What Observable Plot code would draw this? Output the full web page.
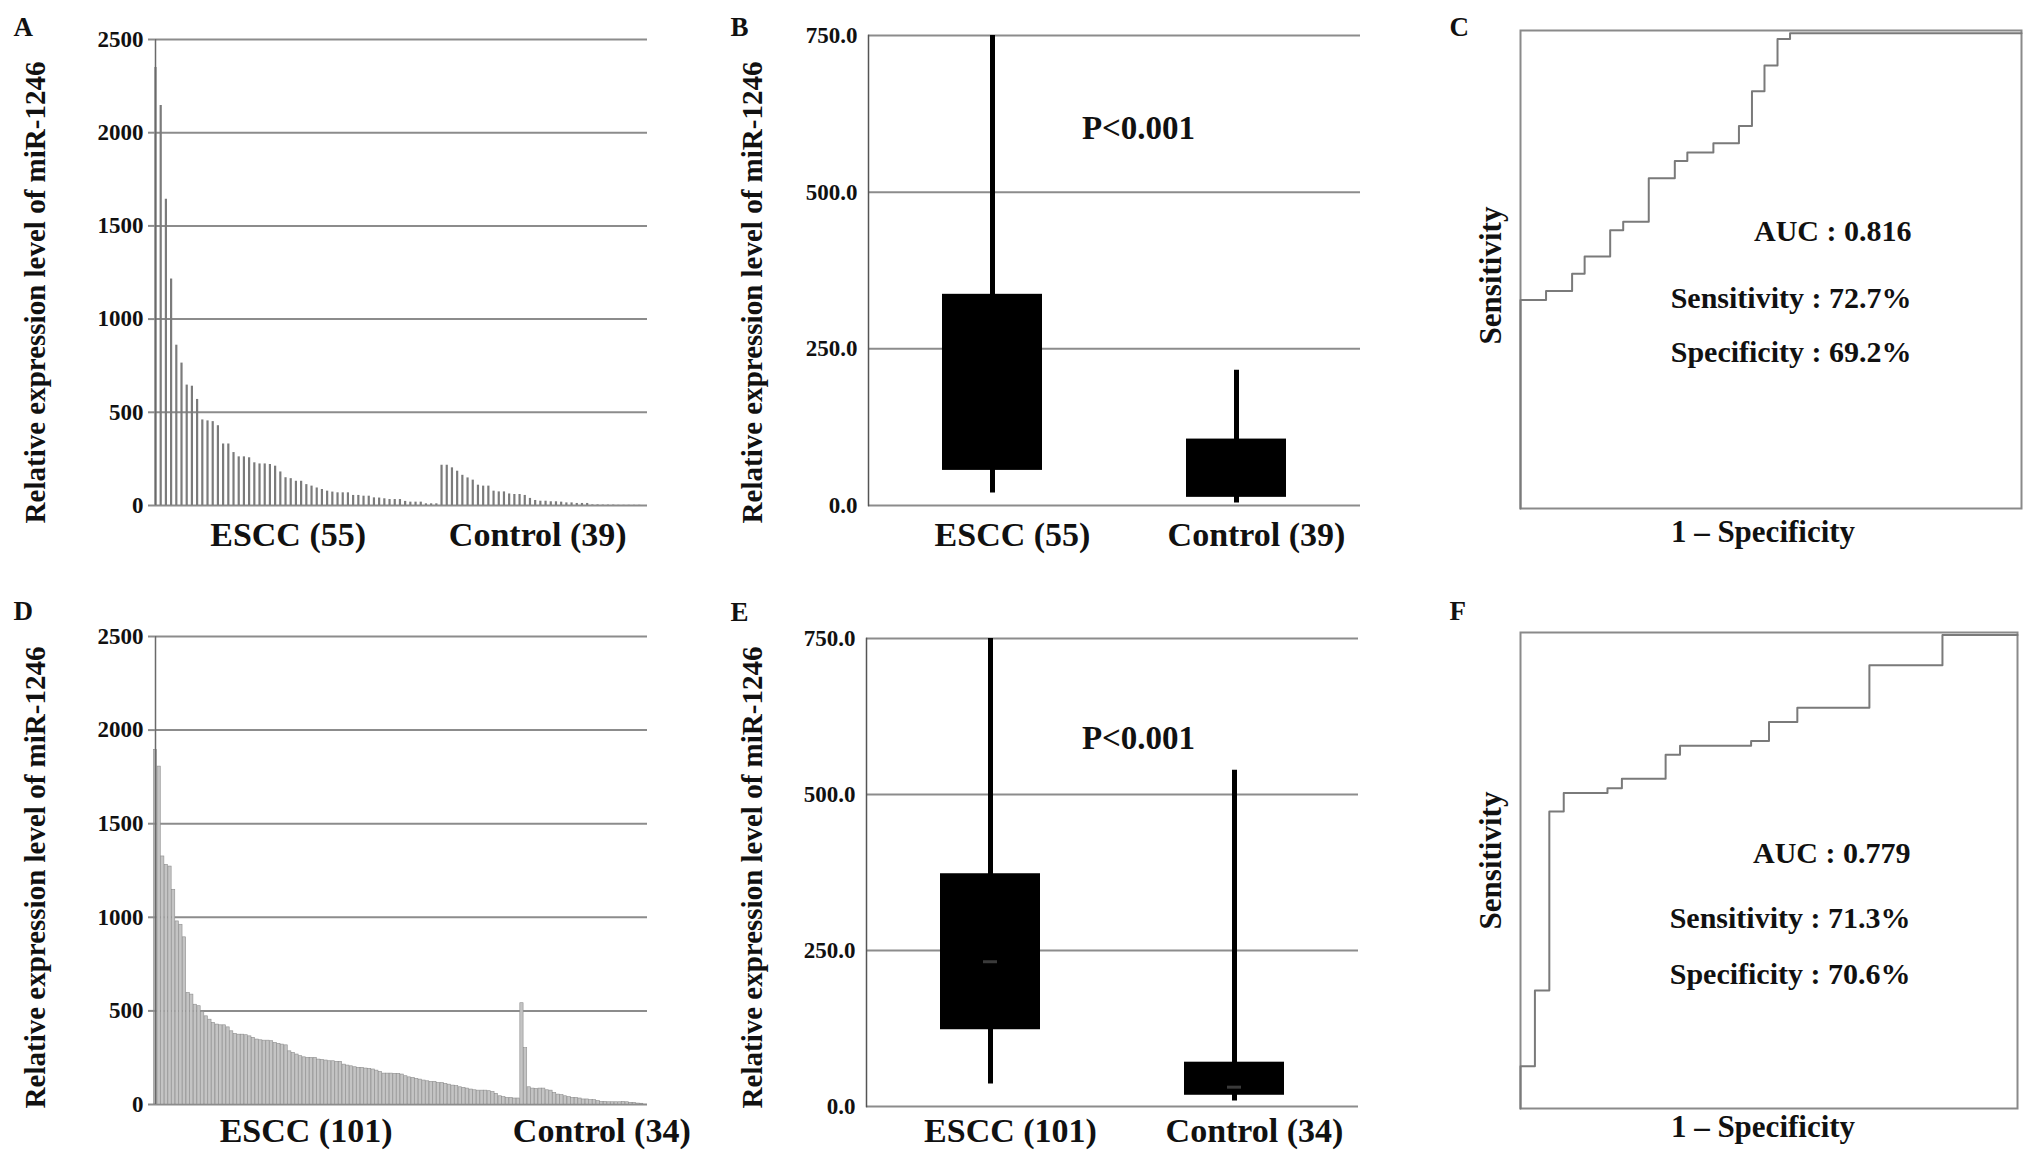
<!DOCTYPE html>
<html><head><meta charset="utf-8">
<script src="https://cdn.jsdelivr.net/npm/d3@7"></script>
<script src="https://cdn.jsdelivr.net/npm/@observablehq/plot@0.6"></script>
<style>
html,body{margin:0;padding:0;background:#fff;}
#fig{position:relative;width:2031px;height:1160px;overflow:hidden;background:#fff;}
#fig > svg{position:absolute;}
</style></head><body><div id="fig"></div>
<script>
// ---------- data ----------
const esccA = [2350,2146,1643,1215,860,764,646,640,569,459,454,450,428,330,330,284,261,261,256,229,223,223,220,211,180,149,144,130,130,112,104,94,86,77,72,68,68,68,54,54,50,50,41,40,36,32,32,32,22,18,18,18,9,9,9];
const ctrlA = [216,216,202,184,162,148,136,109,104,104,77,73,73,62,59,59,54,38,27,23,23,20,20,18,14,14,11,11,11,3,3,2,2,2,1,1,1,1,1];
const esccD = [1894,1805,1325,1280,1271,1147,978,960,893,596,587,533,525,494,471,453,436,427,423,423,412,391,377,373,373,370,364,356,347,343,341,341,338,329,324,320,316,284,276,267,258,252,249,249,249,240,238,235,231,231,228,228,213,208,204,199,196,196,192,190,187,181,174,165,165,165,164,164,160,151,145,142,137,133,128,124,121,121,115,115,110,106,101,98,92,89,85,80,76,74,74,74,71,67,57,44,39,35,35,32,32];
const ctrlD = [541,301,92,85,83,85,85,76,74,62,53,50,44,39,35,35,32,27,27,23,23,18,14,14,12,12,12,12,14,12,9,9,5,4];
const groupsTop = ["ESCC (55)", "Control (39)"];
const groupsBottom = ["ESCC (101)", "Control (34)"];
const barTicks = [0, 500, 1000, 1500, 2000, 2500];
const boxTicks = [0, 250, 500, 750];
// box plots: low whisker, Q1, Q3, high whisker (median where visible)
const loB = [20, 4], q1B = [56, 13], q3B = [337, 106], hiB = [750, 216];
const loE = [36, 9], q1E = [123, 18], q3E = [373, 71], hiE = [750, 539], medE = [232, 31];
// ROC curves
const fprC = [0,0,0.051,0.103,0.128,0.179,0.205,0.256,0.308,0.333,0.385,0.436,0.462,0.487,0.513,0.538,1];
const tprC = [0,0.436,0.455,0.491,0.527,0.582,0.6,0.691,0.727,0.745,0.764,0.8,0.873,0.927,0.982,0.994,0.994];
const fprF = [0,0,0.029,0.058,0.087,0.175,0.204,0.292,0.321,0.464,0.5,0.557,0.702,0.849,1];
const tprF = [0,0.089,0.248,0.624,0.663,0.673,0.693,0.743,0.762,0.772,0.812,0.842,0.931,0.995,0.995];
const statNames = ["AUC", "Sensitivity", "Specificity"];
const statsC = ["0.816", "72.7%", "69.2%"];
const statsF = ["0.779", "71.3%", "70.6%"];
const yTitle = "Relative expression level of miR-1246";
const pText = "P<0.001";

// ---------- style ----------
const FONT = "'Liberation Serif','Times New Roman',serif";
const GRID = "#8c8c8c";
const INK = "#111";
const fig = document.getElementById("fig");
function place(svg, left, top) {
  svg.style.left = left + "px"; svg.style.top = top + "px";
  fig.appendChild(svg);
}
const baseStyle = {fontFamily: FONT, fontWeight: "bold", background: "transparent", color: INK, overflow: "visible"};
const T = {fontFamily: FONT, fontWeight: "bold", fill: INK};

function letterMark(letter, dx, dy) {
  return Plot.text([letter], {frameAnchor: "top-left", textAnchor: "start", lineAnchor: "bottom", dx, dy, fontSize: 27, ...T});
}

// ---------- bar panels (A, D) ----------
function barPanel({escc, ctrl, groups, labelX, letter, mt, mb, dark, letterDy, labelDy, titleDy}) {
  const values = [...escc, ...ctrl];
  const data = values.map((v, i) => ({i, v}));
  const bars = dark
    ? Plot.ruleX(data, {x: "i", y1: 0, y2: "v", stroke: "#7b7b7b", strokeWidth: 2.2})
    : Plot.rectY(data, {x1: d => d.i - 0.45, x2: d => d.i + 0.45, y1: 0, y2: "v", fill: "#c4c4c4", stroke: "#8e8e8e", strokeWidth: 0.6});
  return Plot.plot({
    width: 660, height: 580, marginLeft: 155, marginRight: 13, marginTop: mt, marginBottom: mb,
    style: baseStyle,
    x: {domain: [0, values.length + 0.6], axis: null},
    y: {domain: [0, 2500], axis: null},
    marks: [
      Plot.ruleY(barTicks, {stroke: GRID, strokeWidth: 2}),
      bars,
      Plot.ruleX([0], {y1: 0, y2: 2500, stroke: "#6a6a6a", strokeWidth: 1.5}),
      Plot.axisY(barTicks, {label: null, tickSize: 7, tickPadding: 5, tickFormat: d => String(d), stroke: GRID, strokeWidth: 2, fontSize: 23, ...T}),
      Plot.text(groups, {x: labelX, text: d => d, frameAnchor: "bottom", lineAnchor: "bottom", dy: labelDy, fontSize: 34, ...T}),
      Plot.text([yTitle], {frameAnchor: "left", textAnchor: "middle", lineAnchor: "middle", rotate: -90, dx: -120, dy: titleDy, fontSize: 29, ...T}),
      letterMark(letter, -142, letterDy)
    ]
  });
}

// ---------- box panels (B, E) ----------
function boxPanel({groups, lo, q1, q3, hi, med, letter, ml, mr, mt, mb, pDx, pDy, letterDy, titleDy, labelDy}) {
  const rows = groups.map((g, i) => ({g, lo: lo[i], q1: q1[i], q3: q3[i], hi: hi[i], med: med ? med[i] : null}));
  const marks = [
    Plot.ruleY(boxTicks, {stroke: GRID, strokeWidth: 2}),
    Plot.ruleX(rows, {x: "g", y1: "lo", y2: "hi", stroke: "#000", strokeWidth: 5}),
    Plot.barY(rows, {x: "g", y1: "q1", y2: "q3", fill: "#000"}),
  ];
  if (med) marks.push(Plot.tickY(rows, {x: "g", y: "med", stroke: "#3a3a3a", strokeWidth: 3, inset: 43}));
  marks.push(
    Plot.frame({anchor: "left", stroke: "#555", strokeWidth: 1.5}),
    Plot.axisY(boxTicks, {label: null, tickSize: 0, tickPadding: 11, tickFormat: d => d.toFixed(1), fontSize: 23, ...T}),
    Plot.text(groups, {x: d => d, text: d => d, frameAnchor: "bottom", lineAnchor: "bottom", dx: 20, dy: labelDy, fontSize: 34, ...T}),
    Plot.text([pText], {frameAnchor: "top", lineAnchor: "bottom", dx: pDx, dy: pDy, fontSize: 33, ...T}),
    Plot.text([yTitle], {frameAnchor: "left", textAnchor: "middle", lineAnchor: "middle", rotate: -90, dx: -(ml - 52), dy: titleDy, fontSize: 29, ...T}),
    letterMark(letter, -(ml - 30), letterDy)
  );
  return Plot.plot({
    width: 680, height: 580, marginLeft: ml, marginRight: mr, marginTop: mt, marginBottom: mb,
    style: baseStyle,
    x: {domain: groups, paddingInner: 0.59, paddingOuter: 0.3, axis: null},
    y: {domain: [0, 750], axis: null},
    marks
  });
}

// ---------- ROC panels (C, F) ----------
function rocPanel({fpr, tpr, stats, letter, mt, mb, mr, statDy, statDx, sensDy, specDx, specDy, letterDy}) {
  const pts = fpr.map((f, i) => ({f, t: tpr[i]}));
  const statMarks = statNames.map((n, k) =>
    Plot.text([`${n} : ${stats[k]}`], {frameAnchor: "top-right", textAnchor: "end", lineAnchor: "bottom", dx: statDx, dy: statDy[k], fontSize: 30, ...T}));
  return Plot.plot({
    width: 591, height: 580, marginLeft: 80, marginRight: mr, marginTop: mt, marginBottom: mb,
    style: baseStyle,
    x: {domain: [0, 1], axis: null},
    y: {domain: [0, 1], axis: null},
    marks: [
      Plot.frame({stroke: "#8a8a8a", strokeWidth: 2}),
      Plot.line(pts, {x: "f", y: "t", curve: "step-after", stroke: "#7a7a7a", strokeWidth: 2}),
      ...statMarks,
      Plot.text(["Sensitivity"], {frameAnchor: "left", textAnchor: "middle", lineAnchor: "middle", rotate: -90, dx: -29, dy: sensDy, fontSize: 31, ...T}),
      Plot.text(["1 \u2013 Specificity"], {frameAnchor: "bottom", lineAnchor: "bottom", dx: specDx, dy: specDy, fontSize: 31, ...T}),
      letterMark(letter, -71, letterDy)
    ]
  });
}

// ---------- assemble ----------
place(barPanel({escc: esccA, ctrl: ctrlA, groups: groupsTop, labelX: [(esccA.length - 1) / 2 - 1.5, esccA.length + (ctrlA.length - 1) / 2 - 0.5],
  letter: "A", mt: 39, mb: 75, dark: true, letterDy: -4, labelDy: 40, titleDy: 20}), 0, 0);
place(barPanel({escc: esccD, ctrl: ctrlD, groups: groupsBottom, labelX: [41.5, 123],
  letter: "D", mt: 56, mb: 56, dark: false, letterDy: -17, labelDy: 37, titleDy: 7}), 0, 580);

place(boxPanel({groups: groupsTop, lo: loB, q1: q1B, q3: q3B, hi: hiB, med: null, letter: "B",
  ml: 168, mr: 20, mt: 35, mb: 75, pDx: 24, pDy: 103, letterDy: 0, titleDy: 22, labelDy: 40}), 700, 0);
place(boxPanel({groups: groupsBottom, lo: loE, q1: q1E, q3: q3E, hi: hiE, med: medE, letter: "E",
  ml: 166, mr: 22, mt: 58, mb: 54, pDx: 26, pDy: 110, letterDy: -18, titleDy: 5, labelDy: 35}), 700, 580);

place(rocPanel({fpr: fprC, tpr: tprC, stats: statsC, letter: "C", mt: 30, mb: 72, mr: 10,
  statDy: [210, 277, 331], statDx: -110, sensDy: 6, specDx: -8, specDy: 33, letterDy: 5}), 1440, 0);
place(rocPanel({fpr: fprF, tpr: tprF, stats: statsF, letter: "F", mt: 52, mb: 52, mr: 14,
  statDy: [230, 295, 351], statDx: -107, sensDy: -10, specDx: -6, specDy: 28, letterDy: -13}), 1440, 580);
</script></body></html>
